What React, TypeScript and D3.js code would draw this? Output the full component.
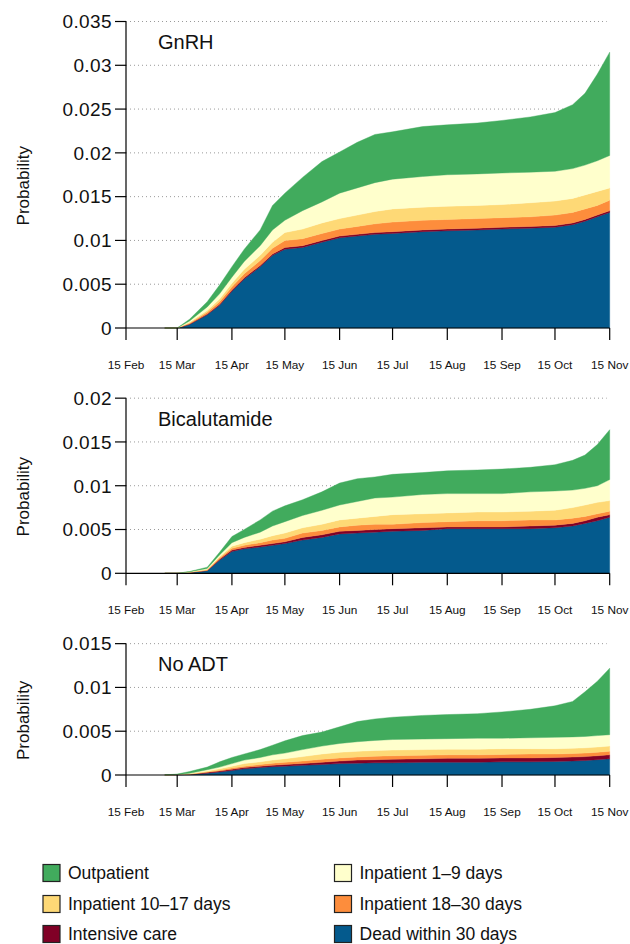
import React from "react";
import * as d3 from "d3";

// ---- Data (cumulative stacked tops, probability) ----
const DATES = ["2020-03-08","2020-03-15","2020-03-22","2020-04-01","2020-04-08","2020-04-15","2020-04-22","2020-05-01","2020-05-08","2020-05-15","2020-05-25","2020-06-05","2020-06-15","2020-06-25","2020-07-05","2020-07-15","2020-08-01","2020-08-15","2020-09-01","2020-09-15","2020-10-01","2020-10-15","2020-10-25","2020-11-01","2020-11-08","2020-11-15"];

const CATEGORIES = ["Dead within 30 days","Intensive care","Inpatient 18–30 days","Inpatient 10–17 days","Inpatient 1–9 days","Outpatient"];
const COLORS = ["#045A8D","#800026","#FD8D3C","#FED976","#FFFFCC","#41AB5D"];

const gnrhDead = [0,0,0.0004,0.0015,0.0026,0.0042,0.0056,0.0070,0.0083,0.0090,0.0092,0.0098,0.0103,0.0105,0.0107,0.0108,0.0110,0.0111,0.0112,0.0113,0.0114,0.0115,0.0118,0.0122,0.0127,0.0132];
const gnrhICU = [0,0,0.00045,0.0016,0.0027,0.00435,0.00575,0.00715,0.00845,0.0092,0.0094,0.0100,0.0105,0.0107,0.0109,0.0110,0.0112,0.0113,0.0114,0.0115,0.0116,0.0117,0.0120,0.0124,0.0129,0.0134];
const gnrh18 = [0,0,0.00055,0.0018,0.0030,0.0047,0.0062,0.0077,0.0091,0.0100,0.0102,0.0108,0.0113,0.0116,0.0119,0.0121,0.0123,0.0124,0.0125,0.0126,0.0127,0.0129,0.0132,0.0136,0.0140,0.0146];
const gnrh10 = [0,0,0.00065,0.0020,0.0033,0.0051,0.0067,0.0083,0.0098,0.0109,0.0113,0.0120,0.0125,0.0129,0.0133,0.0136,0.0138,0.0139,0.0140,0.0141,0.0143,0.0145,0.0148,0.0152,0.0156,0.0160];
const gnrh1 = [0,0,0.0008,0.0024,0.0039,0.0058,0.0076,0.0094,0.0112,0.0123,0.0134,0.0144,0.0154,0.0160,0.0166,0.0170,0.0173,0.0175,0.0176,0.0177,0.0178,0.0179,0.0182,0.0186,0.0191,0.0197];
const gnrhOut = [0,0,0.0010,0.0030,0.0049,0.0070,0.0090,0.0112,0.0140,0.0154,0.0172,0.0190,0.0201,0.0212,0.0221,0.0224,0.0230,0.0232,0.0234,0.0237,0.0241,0.0246,0.0255,0.0268,0.0290,0.0315];

const bicaDead = [0,0,0.0001,0.0003,0.0015,0.0025,0.0028,0.0030,0.0032,0.0034,0.0038,0.0041,0.0045,0.0046,0.0047,0.0048,0.0049,0.0051,0.0051,0.0051,0.0051,0.0052,0.0054,0.0057,0.0060,0.0064];
const bicaICU = [0,0,0.0001,0.00033,0.0016,0.00265,0.00295,0.0032,0.0034,0.0036,0.0041,0.0044,0.0048,0.0049,0.0050,0.0051,0.0052,0.0053,0.0053,0.0053,0.0054,0.0055,0.0057,0.0060,0.0064,0.0067];
const bica18 = [0,0,0.00012,0.00038,0.00175,0.00285,0.0032,0.0035,0.0038,0.0040,0.0046,0.0049,0.0053,0.0055,0.0056,0.0056,0.0058,0.0059,0.0060,0.0060,0.0061,0.0061,0.0063,0.0065,0.0068,0.0071];
const bica10 = [0,0,0.00015,0.00045,0.0019,0.0031,0.0035,0.0039,0.0043,0.0046,0.0052,0.0056,0.0061,0.0063,0.0065,0.0067,0.0068,0.0069,0.0070,0.0070,0.0071,0.0072,0.0075,0.0078,0.0081,0.0083];
const bica1 = [0,0,0.00018,0.00055,0.0021,0.0035,0.0041,0.0047,0.0054,0.0059,0.0066,0.0072,0.0078,0.0082,0.0086,0.0087,0.0090,0.0091,0.0091,0.0091,0.0093,0.0094,0.0095,0.0097,0.0100,0.0107];
const bicaOut = [0,0,0.0002,0.0007,0.0024,0.0042,0.0050,0.0061,0.0071,0.0077,0.0084,0.0093,0.0103,0.0108,0.0110,0.0113,0.0115,0.0117,0.0118,0.0119,0.0121,0.0124,0.0129,0.0135,0.0147,0.0164];

const noadtDead = [0,0.00002,0.00005,0.0002,0.00035,0.0005,0.0007,0.00085,0.00095,0.0010,0.0011,0.0012,0.0013,0.00135,0.0014,0.0014,0.00145,0.00145,0.00145,0.0015,0.0015,0.00155,0.0016,0.00165,0.00175,0.00185];
const noadtICU = [0,0.00003,0.00008,0.0003,0.00045,0.00065,0.00085,0.0010,0.0011,0.0012,0.0013,0.00145,0.0016,0.0017,0.00175,0.0018,0.00185,0.0019,0.0019,0.00195,0.00195,0.0020,0.00205,0.0021,0.0022,0.0023];
const noadt18 = [0,0.00004,0.0001,0.00035,0.00055,0.0008,0.0010,0.0012,0.00135,0.00145,0.0016,0.0018,0.00195,0.00205,0.00215,0.0022,0.00225,0.0023,0.0023,0.00235,0.0024,0.0024,0.00245,0.0025,0.0026,0.0027];
const noadt10 = [0,0.00005,0.00013,0.00045,0.0007,0.0010,0.0013,0.0015,0.0017,0.00185,0.0021,0.0024,0.0026,0.0027,0.0028,0.00285,0.0029,0.00295,0.00295,0.0030,0.0030,0.0030,0.00305,0.0031,0.0032,0.0033];
const noadt1 = [0,0.00007,0.0002,0.0006,0.0009,0.0013,0.0017,0.0020,0.0023,0.0025,0.0029,0.0033,0.0036,0.0038,0.00395,0.00405,0.0041,0.00415,0.0042,0.0042,0.00425,0.0043,0.00435,0.0044,0.0045,0.0046];
const noadtOut = [0.00002,0.0001,0.0004,0.0009,0.0015,0.0020,0.0024,0.0029,0.0034,0.0039,0.0045,0.0049,0.0055,0.0061,0.0064,0.0066,0.0068,0.0069,0.0070,0.0072,0.0075,0.0079,0.0084,0.0095,0.0107,0.0122];

const X_TICKS = ["2020-02-15","2020-03-15","2020-04-15","2020-05-15","2020-06-15","2020-07-15","2020-08-15","2020-09-15","2020-10-15","2020-11-15"];
const X_LABELS = ["15 Feb","15 Mar","15 Apr","15 May","15 Jun","15 Jul","15 Aug","15 Sep","15 Oct","15 Nov"];

const GNRH_TICKS = [0,0.005,0.01,0.015,0.02,0.025,0.03,0.035];
const BICA_TICKS = [0,0.005,0.01,0.015,0.02];
const NOADT_TICKS = [0,0.005,0.01,0.015];

const PANELS = [
  { title: "GnRH", zeroY: 328, ticks: GNRH_TICKS, series: [gnrhDead,gnrhICU,gnrh18,gnrh10,gnrh1,gnrhOut] },
  { title: "Bicalutamide", zeroY: 573.3, ticks: BICA_TICKS, series: [bicaDead,bicaICU,bica18,bica10,bica1,bicaOut] },
  { title: "No ADT", zeroY: 775, ticks: NOADT_TICKS, series: [noadtDead,noadtICU,noadt18,noadt10,noadt1,noadtOut] },
];

const LEGEND_ORDER = [5,4,3,2,1,0];

const FONT = "'Liberation Sans', Arial, Helvetica, sans-serif";
const PX_PER_UNIT = 8757;
const X0 = 126;
const X1 = 609.7;

const parse = (s: string) => new Date(s + "T00:00:00Z");
const dates = DATES.map(parse);

const x = d3.scaleUtc().domain([parse(X_TICKS[0]), parse(X_TICKS[X_TICKS.length - 1])]).range([X0, X1]);

const fmt = (v: number) => String(+v.toFixed(3));

function Panel({ p }: { p: typeof PANELS[number] }) {
  const maxV = p.ticks[p.ticks.length - 1];
  const y = d3.scaleLinear().domain([0, maxV]).range([p.zeroY, p.zeroY - maxV * PX_PER_UNIT]);
  const top = y(maxV);
  const areas = p.series.map((s, i) => {
    const lower = i === 0 ? s.map(() => 0) : p.series[i - 1];
    const gen = d3.area<number>()
      .x((_, j) => x(dates[j]))
      .y0((_, j) => y(lower[j]))
      .y1((d) => y(d))
      .curve(d3.curveLinear);
    return gen(s) as string;
  });
  return (
    <g>
      {p.ticks.filter((t) => t > 0).map((t) => (
        <line key={"g" + t} x1={X0} x2={X1 - 3} y1={y(t)} y2={y(t)} stroke="#9a9a9a" strokeWidth={1} strokeDasharray="1 3" />
      ))}
      {areas.map((d, i) => (
        <path key={"a" + i} d={d} fill={COLORS[i]} stroke={COLORS[i]} strokeWidth={0.4} />
      ))}
      {/* y axis */}
      <line x1={X0} x2={X0} y1={y(0)} y2={top} stroke="#000" strokeWidth={1.2} />
      {p.ticks.map((t) => (
        <g key={"yt" + t}>
          <line x1={X0 - 11} x2={X0} y1={y(t)} y2={y(t)} stroke="#000" strokeWidth={1.2} />
          <text x={112} y={y(t)} dy="0.36em" textAnchor="end" fontSize={19} letterSpacing={0.4} fontFamily={FONT} fill="#111">{fmt(t)}</text>
        </g>
      ))}
      {/* x axis */}
      <line x1={X0} x2={X1} y1={y(0)} y2={y(0)} stroke="#000" strokeWidth={1.2} />
      {X_TICKS.map((t, i) => {
        const xx = x(parse(t));
        return (
          <g key={"xt" + t}>
            <line x1={xx} x2={xx} y1={y(0)} y2={y(0) + 12} stroke="#000" strokeWidth={1.2} />
            <text x={xx} y={y(0) + 41} textAnchor="middle" fontSize={11.8} fontFamily={FONT} fill="#111">{X_LABELS[i]}</text>
          </g>
        );
      })}
      <text x={158} y={top + 27.5} fontSize={20} fontFamily={FONT} fill="#111">{p.title}</text>
      <text transform={`translate(29,${(top + y(0)) / 2 + 11}) rotate(-90)`} textAnchor="middle" fontSize={17} fontFamily={FONT} fill="#111">Probability</text>
    </g>
  );
}

export default function App() {
  const rowsY = [873, 904, 934];
  const colX = [43, 334.5];
  return (
    <svg width={630} height={944} style={{ position: "absolute", left: 0, top: 0, background: "#fff" }}>
      <rect width={630} height={944} fill="#fff" />
      {PANELS.map((p) => <Panel key={p.title} p={p} />)}
      {LEGEND_ORDER.map((ci, k) => {
        const row = Math.floor(k / 2);
        const col = k % 2;
        const lx = colX[col];
        const ly = rowsY[row];
        return (
          <g key={"l" + ci}>
            <rect x={lx} y={ly - 8.5} width={17} height={17} fill={COLORS[ci]} stroke="#222" strokeWidth={1.2} />
            <text x={lx + 25} y={ly + 6} fontSize={17.5} fontFamily={FONT} fill="#111">{CATEGORIES[ci]}</text>
          </g>
        );
      })}
    </svg>
  );
}
